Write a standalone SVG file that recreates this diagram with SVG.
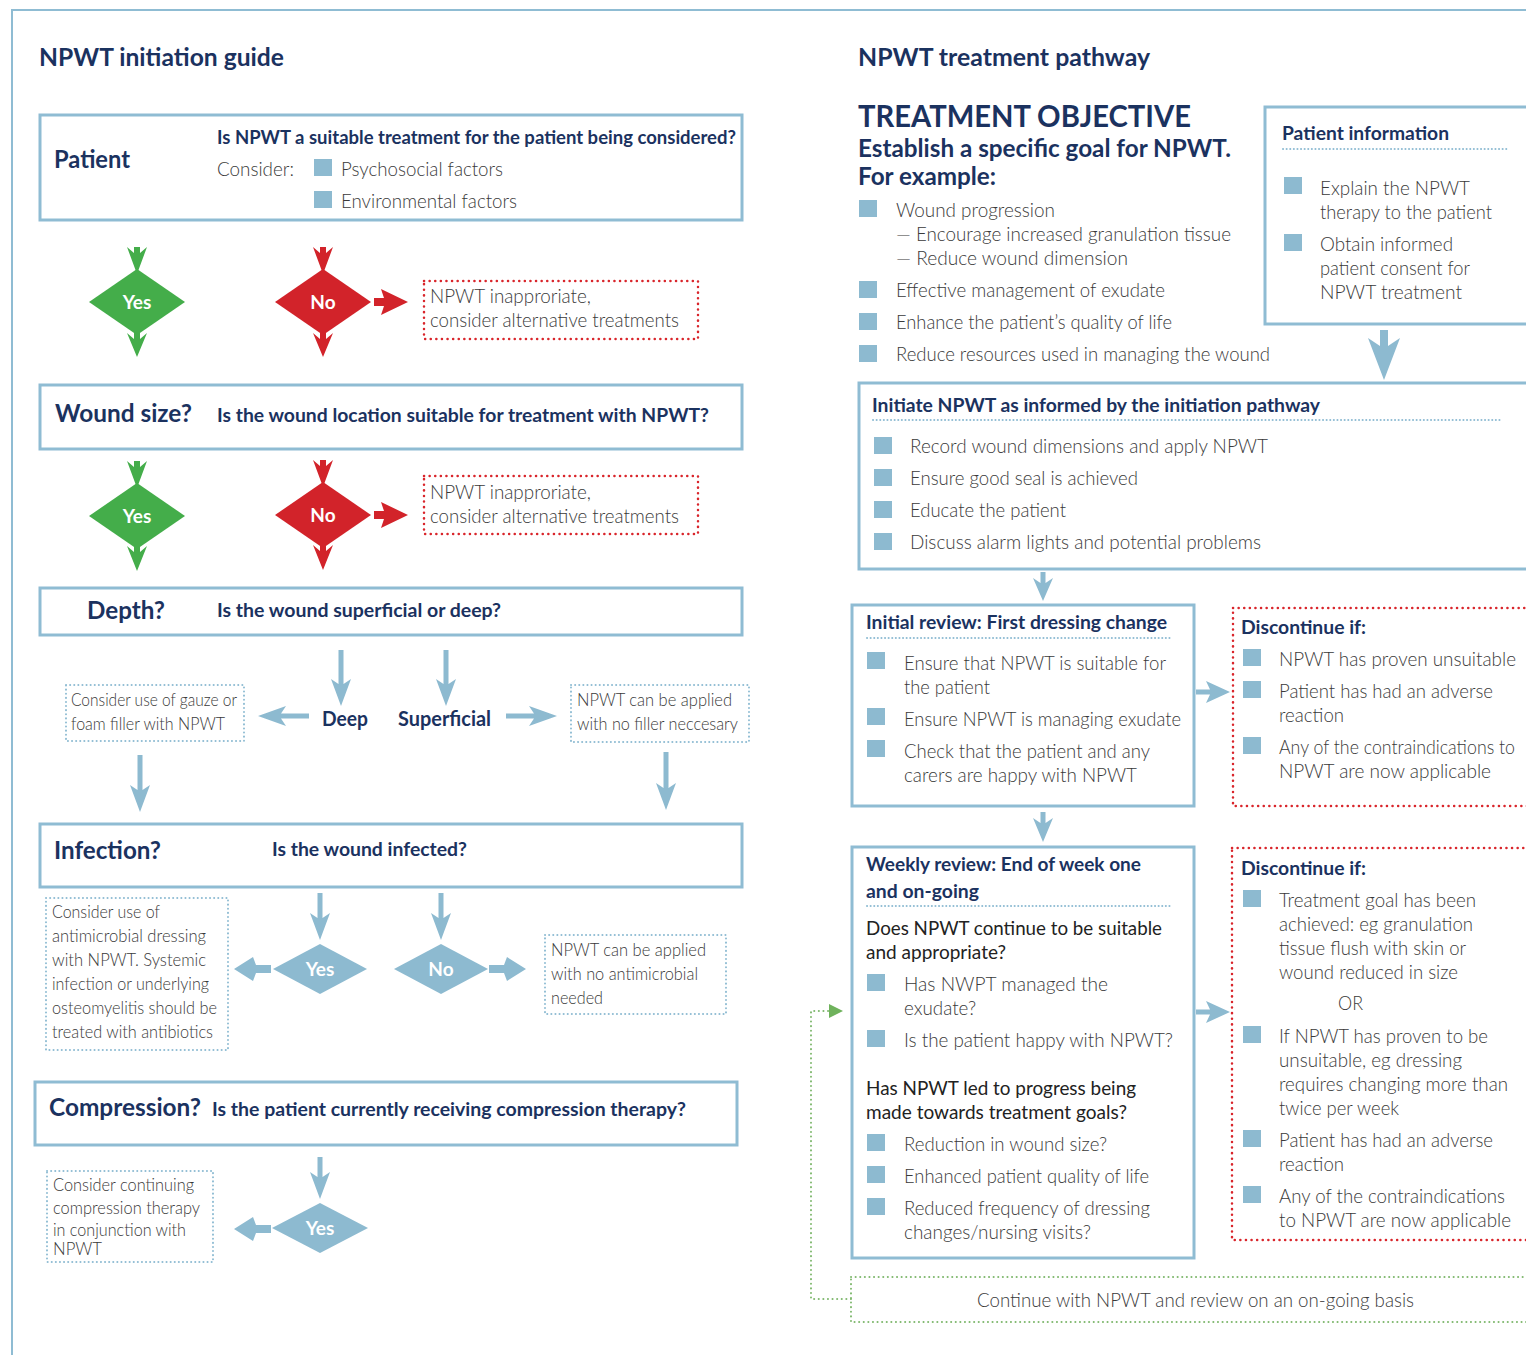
<svg xmlns="http://www.w3.org/2000/svg" width="1526" height="1355" viewBox="0 0 1526 1355">
<style>
text{font-family:Lato,"Liberation Sans",sans-serif;}
.h{font-weight:700;fill:#1b325f;}
.h24{font-size:24px;}
.h19{font-size:19px;}
.t{font-weight:300;fill:#3a3a3a;font-size:19px;}
.s{font-weight:300;fill:#3a3a3a;font-size:17px;}
.d{font-weight:400;fill:#222;font-size:19px;}
.w{font-weight:700;fill:#fff;font-size:19px;}
.box{fill:none;stroke:#8fbcd3;stroke-width:3;}
.bdot{fill:none;stroke:#8fbcd3;stroke-width:2;stroke-dasharray:0.1 4;stroke-linecap:round;}
.rdot{fill:none;stroke:#d9252b;stroke-width:2.5;stroke-dasharray:0.1 5.5;stroke-linecap:round;}
.gdot{fill:none;stroke:#7fb86e;stroke-width:2;stroke-dasharray:0.1 4.5;stroke-linecap:round;}
.sep{fill:none;stroke:#8fbcd3;stroke-width:2;stroke-dasharray:0.1 3.5;stroke-linecap:round;}
.bu{fill:#8dbad0;}
.ba{fill:#8dbad0;}
.ga{fill:#44ad4a;}
.ra{fill:#d2232a;}
</style>
<rect width="1526" height="1355" fill="#fff"/>
<path d="M12,1355 V10 H1526" fill="none" stroke="#8fbcd3" stroke-width="2"/>

<text class="h h24" x="39" y="66" textLength="245" lengthAdjust="spacingAndGlyphs">NPWT initiation guide</text>
<text class="h h24" x="858" y="66" textLength="292" lengthAdjust="spacingAndGlyphs">NPWT treatment pathway</text>

<g id="connectors">
  <polygon class="ga" points="127,247 134,253 134,247 140,247 140,253 147,247 137,274"/>
  <polygon class="ga" points="127,333 134,339 134,333 140,333 140,339 147,333 137,357"/>
  <polygon class="ra" points="313,247 320,253 320,247 326,247 326,253 333,247 323,274"/>
  <polygon class="ra" points="313,333 320,339 320,333 326,333 326,339 333,333 323,357"/>
  <polygon class="ra" points="374,298 384,298 381,289 408,302 381,315 384,306 374,306"/>
  <polygon class="ga" points="127,461 134,467 134,461 140,461 140,467 147,461 137,488"/>
  <polygon class="ga" points="127,546 134,552 134,546 140,546 140,552 147,546 137,571"/>
  <polygon class="ra" points="313,460 320,466 320,460 326,460 326,466 333,460 323,487"/>
  <polygon class="ra" points="313,545 320,551 320,545 326,545 326,551 333,545 323,570"/>
  <polygon class="ra" points="374,511 384,511 381,502 408,515 381,528 384,519 374,519"/>
  <polygon class="ba" points="338.5,650 343.5,650 343.5,684 351,679 341,706 331,679 338.5,684"/>
  <polygon class="ba" points="443.5,650 448.5,650 448.5,684 456,679 446,706 436,679 443.5,684"/>
  <polygon class="ba" points="309,713.5 281,713.5 286,706 258,716 286,726 281,718.5 309,718.5"/>
  <polygon class="ba" points="506,713.5 534,713.5 529,706 557,716 529,726 534,718.5 506,718.5"/>
  <polygon class="ba" points="137.5,755 142.5,755 142.5,790 150,785 140,812 130,785 137.5,790"/>
  <polygon class="ba" points="663.5,752 668.5,752 668.5,788 676,783 666,810 656,783 663.5,788"/>
  <polygon class="ba" points="317.5,893 322.5,893 322.5,918 330,913 320,940 310,913 317.5,918"/>
  <polygon class="ba" points="438.5,893 443.5,893 443.5,918 451,913 441,940 431,913 438.5,918"/>
  <polygon class="ba" points="271,965 256,965 253,957 234,969 253,981 256,973 271,973"/>
  <polygon class="ba" points="489,965 504,965 507,957 526,969 507,981 504,973 489,973"/>
  <polygon class="ba" points="317.5,1157 322.5,1157 322.5,1177 330,1172 320,1199 310,1172 317.5,1177"/>
  <polygon class="ba" points="271,1225 256,1225 253,1217 234,1229 253,1241 256,1233 271,1233"/>
  <polygon class="ba" points="1380,330 1388,330 1388,346 1400,338 1384,380 1368,338 1380,346"/>
  <polygon class="ba" points="1040.5,572 1045.5,572 1045.5,583 1053,578 1043,601 1033,578 1040.5,583"/>
  <polygon class="ba" points="1040.5,812 1045.5,812 1045.5,823 1053,818 1043,842 1033,818 1040.5,823"/>
  <polygon class="ba" points="1196,689.5 1210,689.5 1206,681 1230,692 1206,703 1210,694.5 1196,694.5"/>
  <polygon class="ba" points="1196,1009.5 1210,1009.5 1206,1001 1230,1012 1206,1023 1210,1014.5 1196,1014.5"/>
  <path class="gdot" d="M851,1299 H811 V1011 H830"/>
  <polygon fill="#6fb25c" points="829,1004 843,1011 829,1018"/>
</g>

<g id="patient">
  <rect class="box" x="40" y="115" width="702" height="105"/>
  <text class="h h24" x="54" y="168" textLength="76" lengthAdjust="spacingAndGlyphs">Patient</text>
  <text class="h h19" x="217" y="144" textLength="519" lengthAdjust="spacingAndGlyphs">Is NPWT a suitable treatment for the patient being considered?</text>
  <text class="t" x="217" y="176" textLength="77" lengthAdjust="spacingAndGlyphs">Consider:</text>
  <rect class="bu" x="314" y="159" width="18" height="17"/>
  <text class="t" x="341" y="176" textLength="162" lengthAdjust="spacingAndGlyphs">Psychosocial factors</text>
  <rect class="bu" x="314" y="191" width="18" height="17"/>
  <text class="t" x="341" y="208" textLength="176" lengthAdjust="spacingAndGlyphs">Environmental factors</text>
</g>

<g id="yes1">
  <polygon class="ga" points="137,269 185,302 137,335 89,302"/>
  <text class="w" x="137" y="309" text-anchor="middle">Yes</text>
</g>
<g id="no1">
  <polygon class="ra" points="323,269 371,302 323,335 275,302"/>
  <text class="w" x="323" y="309" text-anchor="middle">No</text>
</g>
<g id="alt1">
  <rect class="rdot" x="424" y="281" width="274" height="58"/>
  <text class="t" x="430" y="303" textLength="161" lengthAdjust="spacingAndGlyphs">NPWT inapproriate,</text>
  <text class="t" x="430" y="327" textLength="249" lengthAdjust="spacingAndGlyphs">consider alternative treatments</text>
</g>

<g id="wound-size">
  <rect class="box" x="40" y="385" width="702" height="64"/>
  <text class="h h24" x="55" y="422" textLength="137" lengthAdjust="spacingAndGlyphs">Wound size?</text>
  <text class="h h19" x="217" y="422" textLength="492" lengthAdjust="spacingAndGlyphs">Is the wound location suitable for treatment with NPWT?</text>
</g>

<g id="yes2">
  <polygon class="ga" points="137,483 185,516 137,549 89,516"/>
  <text class="w" x="137" y="523" text-anchor="middle">Yes</text>
</g>
<g id="no2">
  <polygon class="ra" points="323,482 371,515 323,548 275,515"/>
  <text class="w" x="323" y="522" text-anchor="middle">No</text>
</g>
<g id="alt2">
  <rect class="rdot" x="424" y="476" width="274" height="58"/>
  <text class="t" x="430" y="499" textLength="161" lengthAdjust="spacingAndGlyphs">NPWT inapproriate,</text>
  <text class="t" x="430" y="523" textLength="249" lengthAdjust="spacingAndGlyphs">consider alternative treatments</text>
</g>

<g id="depth">
  <rect class="box" x="40" y="588" width="702" height="47"/>
  <text class="h h24" x="87" y="619" textLength="78" lengthAdjust="spacingAndGlyphs">Depth?</text>
  <text class="h h19" x="217" y="617" textLength="284" lengthAdjust="spacingAndGlyphs">Is the wound superficial or deep?</text>
</g>
<g id="deep">
  <text class="h" x="322" y="726" font-size="20" textLength="46" lengthAdjust="spacingAndGlyphs">Deep</text>
</g>
<g id="superficial">
  <text class="h" x="398" y="726" font-size="20" textLength="93" lengthAdjust="spacingAndGlyphs">Superficial</text>
</g>
<g id="filler">
  <rect class="bdot" x="66" y="685" width="178" height="56"/>
  <text class="s" x="71" y="706" textLength="166" lengthAdjust="spacingAndGlyphs">Consider use of gauze or</text>
  <text class="s" x="71" y="730" textLength="154" lengthAdjust="spacingAndGlyphs">foam filler with NPWT</text>
</g>
<g id="nofiller">
  <rect class="bdot" x="571" y="685" width="178" height="57"/>
  <text class="s" x="577" y="706" textLength="155" lengthAdjust="spacingAndGlyphs">NPWT can be applied</text>
  <text class="s" x="577" y="730" textLength="161" lengthAdjust="spacingAndGlyphs">with no filler neccesary</text>
</g>

<g id="infection">
  <rect class="box" x="40" y="824" width="702" height="63"/>
  <text class="h h24" x="54" y="859" textLength="107" lengthAdjust="spacingAndGlyphs">Infection?</text>
  <text class="h h19" x="272" y="856" textLength="195" lengthAdjust="spacingAndGlyphs">Is the wound infected?</text>
</g>
<g id="yes3">
  <polygon class="ba" points="320,944 367,969 320,994 273,969"/>
  <text class="w" x="320" y="976" text-anchor="middle">Yes</text>
</g>
<g id="no3">
  <polygon class="ba" points="441,944 488,969 441,994 394,969"/>
  <text class="w" x="441" y="976" text-anchor="middle">No</text>
</g>
<g id="antimicrobial">
  <rect class="bdot" x="46" y="898" width="182" height="152"/>
  <text class="s" x="52" y="918" textLength="108" lengthAdjust="spacingAndGlyphs">Consider use of</text>
  <text class="s" x="52" y="942" textLength="154" lengthAdjust="spacingAndGlyphs">antimicrobial dressing</text>
  <text class="s" x="52" y="966" textLength="154" lengthAdjust="spacingAndGlyphs">with NPWT. Systemic</text>
  <text class="s" x="52" y="990" textLength="157" lengthAdjust="spacingAndGlyphs">infection or underlying</text>
  <text class="s" x="52" y="1014" textLength="165" lengthAdjust="spacingAndGlyphs">osteomyelitis should be</text>
  <text class="s" x="52" y="1038" textLength="161" lengthAdjust="spacingAndGlyphs">treated with antibiotics</text>
</g>
<g id="noantimicrobial">
  <rect class="bdot" x="545" y="935" width="181" height="79"/>
  <text class="s" x="551" y="956" textLength="155" lengthAdjust="spacingAndGlyphs">NPWT can be applied</text>
  <text class="s" x="551" y="980" textLength="147" lengthAdjust="spacingAndGlyphs">with no antimicrobial</text>
  <text class="s" x="551" y="1004" textLength="52" lengthAdjust="spacingAndGlyphs">needed</text>
</g>

<g id="compression">
  <rect class="box" x="35" y="1082" width="702" height="63"/>
  <text class="h h24" x="49" y="1116" textLength="152" lengthAdjust="spacingAndGlyphs">Compression?</text>
  <text class="h h19" x="212" y="1116" textLength="474" lengthAdjust="spacingAndGlyphs">Is the patient currently receiving compression therapy?</text>
</g>
<g id="yes4">
  <polygon class="ba" points="320,1203 368,1228 320,1253 272,1228"/>
  <text class="w" x="320" y="1235" text-anchor="middle">Yes</text>
</g>
<g id="continue-compression">
  <rect class="bdot" x="47" y="1171" width="166" height="91"/>
  <text class="s" x="53" y="1191" textLength="141" lengthAdjust="spacingAndGlyphs">Consider continuing</text>
  <text class="s" x="53" y="1214" textLength="147" lengthAdjust="spacingAndGlyphs">compression therapy</text>
  <text class="s" x="53" y="1236" textLength="133" lengthAdjust="spacingAndGlyphs">in conjunction with</text>
  <text class="s" x="53" y="1255" textLength="49" lengthAdjust="spacingAndGlyphs">NPWT</text>
</g>

<g id="objective">
  <text class="h" x="858" y="127" font-size="31" textLength="333" lengthAdjust="spacingAndGlyphs">TREATMENT OBJECTIVE</text>
  <text class="h" x="858" y="157" font-size="25" textLength="373" lengthAdjust="spacingAndGlyphs">Establish a specific goal for NPWT.</text>
  <text class="h" x="858" y="185" font-size="25" textLength="138" lengthAdjust="spacingAndGlyphs">For example:</text>
  <rect class="bu" x="859" y="200" width="18" height="17"/>
  <text class="t" x="896" y="217" textLength="159" lengthAdjust="spacingAndGlyphs">Wound progression</text>
  <text class="t" x="896" y="241" textLength="335" lengthAdjust="spacingAndGlyphs">— Encourage increased granulation tissue</text>
  <text class="t" x="896" y="265" textLength="232" lengthAdjust="spacingAndGlyphs">— Reduce wound dimension</text>
  <rect class="bu" x="859" y="281" width="18" height="17"/>
  <text class="t" x="896" y="297" textLength="269" lengthAdjust="spacingAndGlyphs">Effective management of exudate</text>
  <rect class="bu" x="859" y="313" width="18" height="17"/>
  <text class="t" x="896" y="329" textLength="276" lengthAdjust="spacingAndGlyphs">Enhance the patient’s quality of life</text>
  <rect class="bu" x="859" y="345" width="18" height="17"/>
  <text class="t" x="896" y="361" textLength="374" lengthAdjust="spacingAndGlyphs">Reduce resources used in managing the wound</text>
</g>

<g id="patient-information">
  <rect class="box" x="1265" y="107" width="270" height="217"/>
  <text class="h h19" x="1282" y="140" textLength="167" lengthAdjust="spacingAndGlyphs">Patient information</text>
  <line class="sep" x1="1283" y1="149" x2="1508" y2="149"/>
  <rect class="bu" x="1284" y="177" width="18" height="17"/>
  <text class="t" x="1320" y="195" textLength="150" lengthAdjust="spacingAndGlyphs">Explain the NPWT</text>
  <text class="t" x="1320" y="219" textLength="172" lengthAdjust="spacingAndGlyphs">therapy to the patient</text>
  <rect class="bu" x="1284" y="234" width="18" height="17"/>
  <text class="t" x="1320" y="251" textLength="133" lengthAdjust="spacingAndGlyphs">Obtain informed</text>
  <text class="t" x="1320" y="275" textLength="150" lengthAdjust="spacingAndGlyphs">patient consent for</text>
  <text class="t" x="1320" y="299" textLength="142" lengthAdjust="spacingAndGlyphs">NPWT treatment</text>
</g>

<g id="initiate">
  <rect class="box" x="859" y="383" width="680" height="186"/>
  <text class="h h19" x="872" y="412" textLength="448" lengthAdjust="spacingAndGlyphs">Initiate NPWT as informed by the initiation pathway</text>
  <line class="sep" x1="873" y1="420" x2="1500" y2="420"/>
  <rect class="bu" x="874" y="437" width="18" height="17"/>
  <text class="t" x="910" y="453" textLength="358" lengthAdjust="spacingAndGlyphs">Record wound dimensions and apply NPWT</text>
  <rect class="bu" x="874" y="469" width="18" height="17"/>
  <text class="t" x="910" y="485" textLength="228" lengthAdjust="spacingAndGlyphs">Ensure good seal is achieved</text>
  <rect class="bu" x="874" y="501" width="18" height="17"/>
  <text class="t" x="910" y="517" textLength="156" lengthAdjust="spacingAndGlyphs">Educate the patient</text>
  <rect class="bu" x="874" y="533" width="18" height="17"/>
  <text class="t" x="910" y="549" textLength="351" lengthAdjust="spacingAndGlyphs">Discuss alarm lights and potential problems</text>
</g>

<g id="initial-review">
  <rect class="box" x="852" y="605" width="342" height="201"/>
  <text class="h h19" x="866" y="629" textLength="301" lengthAdjust="spacingAndGlyphs">Initial review: First dressing change</text>
  <line class="sep" x1="867" y1="638" x2="1172" y2="638"/>
  <rect class="bu" x="867" y="652" width="18" height="17"/>
  <text class="t" x="904" y="670" textLength="262" lengthAdjust="spacingAndGlyphs">Ensure that NPWT is suitable for</text>
  <text class="t" x="904" y="694" textLength="86" lengthAdjust="spacingAndGlyphs">the patient</text>
  <rect class="bu" x="867" y="708" width="18" height="17"/>
  <text class="t" x="904" y="726" textLength="277" lengthAdjust="spacingAndGlyphs">Ensure NPWT is managing exudate</text>
  <rect class="bu" x="867" y="740" width="18" height="17"/>
  <text class="t" x="904" y="758" textLength="246" lengthAdjust="spacingAndGlyphs">Check that the patient and any</text>
  <text class="t" x="904" y="782" textLength="233" lengthAdjust="spacingAndGlyphs">carers are happy with NPWT</text>
</g>

<g id="discontinue-1">
  <rect class="rdot" x="1233" y="608" width="300" height="198"/>
  <text class="h h19" x="1241" y="634" textLength="125" lengthAdjust="spacingAndGlyphs">Discontinue if:</text>
  <rect class="bu" x="1243" y="649" width="18" height="17"/>
  <text class="t" x="1279" y="666" textLength="237" lengthAdjust="spacingAndGlyphs">NPWT has proven unsuitable</text>
  <rect class="bu" x="1243" y="681" width="18" height="17"/>
  <text class="t" x="1279" y="698" textLength="214" lengthAdjust="spacingAndGlyphs">Patient has had an adverse</text>
  <text class="t" x="1279" y="722" textLength="65" lengthAdjust="spacingAndGlyphs">reaction</text>
  <rect class="bu" x="1243" y="737" width="18" height="17"/>
  <text class="t" x="1279" y="754" font-size="17.5" textLength="236" lengthAdjust="spacingAndGlyphs">Any of the contraindications to</text>
  <text class="t" x="1279" y="778" textLength="212" lengthAdjust="spacingAndGlyphs">NPWT are now applicable</text>
</g>

<g id="weekly-review">
  <rect class="box" x="852" y="847" width="342" height="411"/>
  <text class="h h19" x="866" y="871" textLength="275" lengthAdjust="spacingAndGlyphs">Weekly review: End of week one</text>
  <text class="h h19" x="866" y="898" textLength="113" lengthAdjust="spacingAndGlyphs">and on-going</text>
  <line class="sep" x1="867" y1="906" x2="1172" y2="906"/>
  <text class="d" x="866" y="935" textLength="296" lengthAdjust="spacingAndGlyphs">Does NPWT continue to be suitable</text>
  <text class="d" x="866" y="959" textLength="140" lengthAdjust="spacingAndGlyphs">and appropriate?</text>
  <rect class="bu" x="867" y="974" width="18" height="17"/>
  <text class="t" x="904" y="991" textLength="204" lengthAdjust="spacingAndGlyphs">Has NWPT managed the</text>
  <text class="t" x="904" y="1015" textLength="72" lengthAdjust="spacingAndGlyphs">exudate?</text>
  <rect class="bu" x="867" y="1030" width="18" height="17"/>
  <text class="t" x="904" y="1047" textLength="269" lengthAdjust="spacingAndGlyphs">Is the patient happy with NPWT?</text>
  <text class="d" x="866" y="1095" textLength="270" lengthAdjust="spacingAndGlyphs">Has NPWT led to progress being</text>
  <text class="d" x="866" y="1119" textLength="261" lengthAdjust="spacingAndGlyphs">made towards treatment goals?</text>
  <rect class="bu" x="867" y="1134" width="18" height="17"/>
  <text class="t" x="904" y="1151" textLength="203" lengthAdjust="spacingAndGlyphs">Reduction in wound size?</text>
  <rect class="bu" x="867" y="1166" width="18" height="17"/>
  <text class="t" x="904" y="1183" textLength="245" lengthAdjust="spacingAndGlyphs">Enhanced patient quality of life</text>
  <rect class="bu" x="867" y="1198" width="18" height="17"/>
  <text class="t" x="904" y="1215" textLength="246" lengthAdjust="spacingAndGlyphs">Reduced frequency of dressing</text>
  <text class="t" x="904" y="1239" textLength="187" lengthAdjust="spacingAndGlyphs">changes/nursing visits?</text>
</g>

<g id="discontinue-2">
  <rect class="rdot" x="1232" y="848" width="301" height="392"/>
  <text class="h h19" x="1241" y="875" textLength="125" lengthAdjust="spacingAndGlyphs">Discontinue if:</text>
  <rect class="bu" x="1243" y="890" width="18" height="17"/>
  <text class="t" x="1279" y="907" textLength="197" lengthAdjust="spacingAndGlyphs">Treatment goal has been</text>
  <text class="t" x="1279" y="931" textLength="194" lengthAdjust="spacingAndGlyphs">achieved: eg granulation</text>
  <text class="t" x="1279" y="955" textLength="187" lengthAdjust="spacingAndGlyphs">tissue flush with skin or</text>
  <text class="t" x="1279" y="979" textLength="179" lengthAdjust="spacingAndGlyphs">wound reduced in size</text>
  <text class="t" x="1338" y="1010" textLength="25" lengthAdjust="spacingAndGlyphs">OR</text>
  <rect class="bu" x="1243" y="1026" width="18" height="17"/>
  <text class="t" x="1279" y="1043" textLength="209" lengthAdjust="spacingAndGlyphs">If NPWT has proven to be</text>
  <text class="t" x="1279" y="1067" textLength="183" lengthAdjust="spacingAndGlyphs">unsuitable, eg dressing</text>
  <text class="t" x="1279" y="1091" textLength="229" lengthAdjust="spacingAndGlyphs">requires changing more than</text>
  <text class="t" x="1279" y="1115" textLength="120" lengthAdjust="spacingAndGlyphs">twice per week</text>
  <rect class="bu" x="1243" y="1130" width="18" height="17"/>
  <text class="t" x="1279" y="1147" textLength="214" lengthAdjust="spacingAndGlyphs">Patient has had an adverse</text>
  <text class="t" x="1279" y="1171" textLength="65" lengthAdjust="spacingAndGlyphs">reaction</text>
  <rect class="bu" x="1243" y="1186" width="18" height="17"/>
  <text class="t" x="1279" y="1203" textLength="226" lengthAdjust="spacingAndGlyphs">Any of the contraindications</text>
  <text class="t" x="1279" y="1227" textLength="232" lengthAdjust="spacingAndGlyphs">to NPWT are now applicable</text>
</g>

<g id="continue">
  <rect class="gdot" x="851" y="1277" width="690" height="45"/>
  <text class="t" x="977" y="1307" textLength="437" lengthAdjust="spacingAndGlyphs">Continue with NPWT and review on an on-going basis</text>
</g>
</svg>
